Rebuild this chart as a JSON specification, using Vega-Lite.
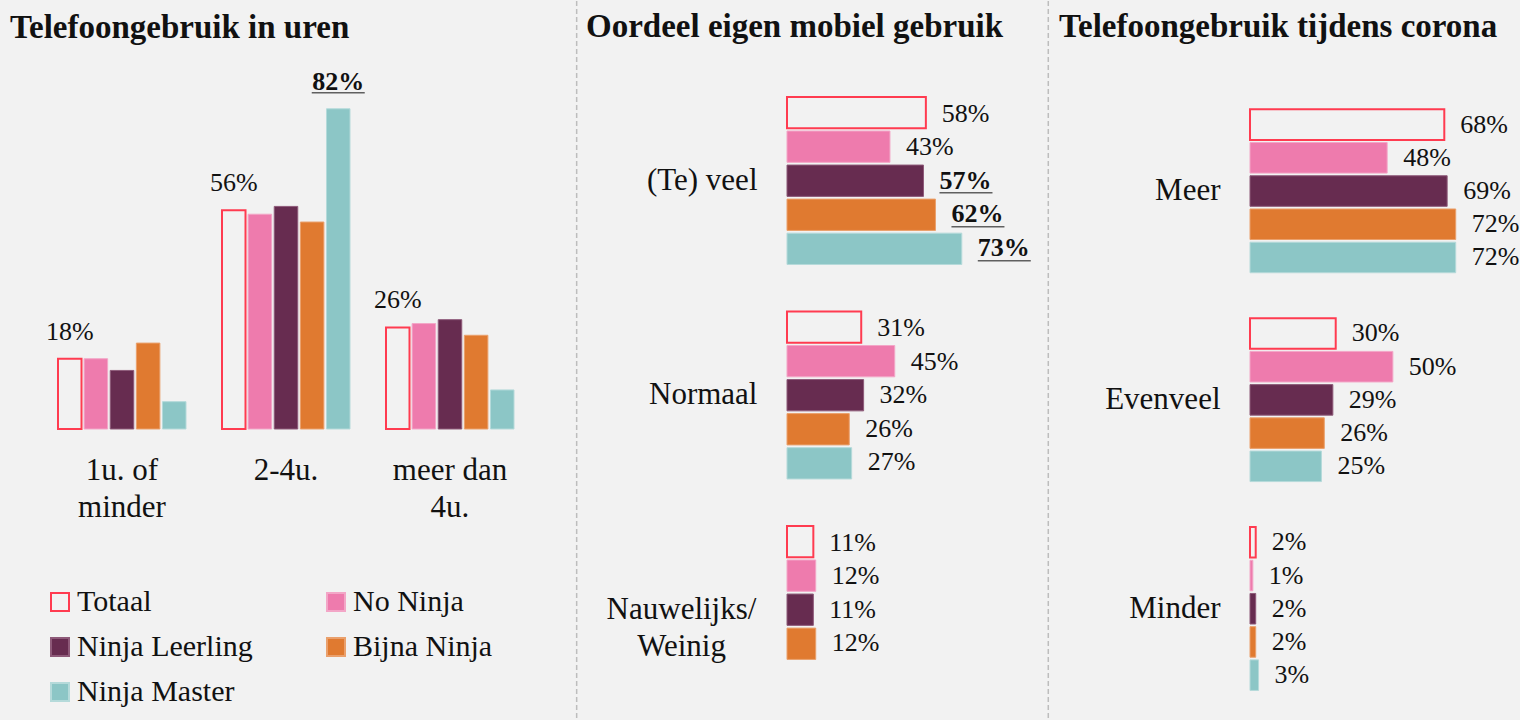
{
  "$schema": "https://vega.github.io/schema/vega-lite/v6.json",
  "background": "#f2f2f2",
  "padding": {"left": 10, "top": 0, "right": 0, "bottom": 0},
  "config": {
    "view": {"stroke": null},
    "font": "Liberation Serif",
    "title": {"font": "Liberation Serif", "fontSize": 33, "fontWeight": "bold", "color": "#111111", "anchor": "start", "frame": "group", "baseline": "alphabetic", "offset": -44},
    "axis": {"labelFont": "Liberation Serif", "labelColor": "#111111", "domain": false, "ticks": false, "grid": false, "title": null, "labelOverlap": false},
    "text": {"font": "Liberation Serif", "color": "#111111"}
  },
  "spacing": 225,
  "bounds": "flush",
  "resolve": {
    "scale": {"fill": "independent", "stroke": "independent", "x": "independent", "y": "independent"},
    "legend": {"fill": "independent", "stroke": "independent"}
  },
  "hconcat": [
    {
      "width": 552,
      "height": 428,
      "title": {"text": "Telefoongebruik in uren"},
      "data": {"values": [
        {"uren": "1u. of minder", "groep": "Totaal", "pct": 0.18},
        {"uren": "1u. of minder", "groep": "No Ninja", "pct": 0.18},
        {"uren": "1u. of minder", "groep": "Ninja Leerling", "pct": 0.15},
        {"uren": "1u. of minder", "groep": "Bijna Ninja", "pct": 0.22},
        {"uren": "1u. of minder", "groep": "Ninja Master", "pct": 0.07},
        {"uren": "2-4u.", "groep": "Totaal", "pct": 0.56},
        {"uren": "2-4u.", "groep": "No Ninja", "pct": 0.55},
        {"uren": "2-4u.", "groep": "Ninja Leerling", "pct": 0.57},
        {"uren": "2-4u.", "groep": "Bijna Ninja", "pct": 0.53},
        {"uren": "2-4u.", "groep": "Ninja Master", "pct": 0.82, "sig": true},
        {"uren": "meer dan 4u.", "groep": "Totaal", "pct": 0.26},
        {"uren": "meer dan 4u.", "groep": "No Ninja", "pct": 0.27},
        {"uren": "meer dan 4u.", "groep": "Ninja Leerling", "pct": 0.28},
        {"uren": "meer dan 4u.", "groep": "Bijna Ninja", "pct": 0.24},
        {"uren": "meer dan 4u.", "groep": "Ninja Master", "pct": 0.10}
      ]},
      "encoding": {
        "x": {"field": "uren", "type": "nominal",
          "scale": {"domain": ["1u. of minder", "2-4u.", "meer dan 4u."], "paddingInner": 0.2195, "paddingOuter": 0.2927},
          "axis": {"labelAngle": 0, "labelFontSize": 31, "labelPadding": 26, "labelLineHeight": 37, "labelLimit": 0,
            "labelExpr": "datum.label == '1u. of minder' ? ['1u. of', 'minder'] : datum.label == 'meer dan 4u.' ? ['meer dan', '4u.'] : datum.label"}},
        "xOffset": {"field": "groep", "type": "nominal",
          "scale": {"domain": ["Totaal", "No Ninja", "Ninja Leerling", "Bijna Ninja", "Ninja Master"], "paddingInner": 0.1}},
        "y": {"field": "pct", "type": "quantitative", "scale": {"domain": [0, 1.096], "nice": false}, "axis": null}
      },
      "layer": [
        {
          "mark": {"type": "bar"},
          "encoding": {
            "fill": {"field": "groep", "type": "nominal",
              "scale": {"domain": ["Totaal", "Ninja Leerling", "Ninja Master", "No Ninja", "Bijna Ninja"], "range": ["#f2f2f2", "#672c50", "#8cc6c6", "#ee7bad", "#e07a30"]},
              "legend": {"orient": "none", "legendX": 35, "legendY": 586, "columns": 2, "title": null, "symbolType": "square", "symbolSize": 324, "symbolStrokeWidth": 2, "labelFontSize": 30, "labelFont": "Liberation Serif", "labelColor": "#111111", "labelOffset": 2, "rowPadding": 15, "columnPadding": 68, "padding": 0, "labelLimit": 0}},
            "stroke": {"field": "groep", "type": "nominal",
              "scale": {"domain": ["Totaal", "Ninja Leerling", "Ninja Master", "No Ninja", "Bijna Ninja"], "range": ["#ff3b50", "#8e5a79", "#b5dada", "#f3a6c7", "#eaa06c"]},
              "legend": {"orient": "none", "legendX": 35, "legendY": 586, "columns": 2, "title": null, "symbolType": "square", "symbolSize": 324, "symbolStrokeWidth": 2, "labelFontSize": 30, "labelFont": "Liberation Serif", "labelColor": "#111111", "labelOffset": 2, "rowPadding": 15, "columnPadding": 68, "padding": 0, "labelLimit": 0}},
            "strokeWidth": {"condition": {"test": "datum.groep == 'Totaal'", "value": 2}, "value": 1}
          }
        },
        {
          "transform": [{"filter": "datum.groep == 'Totaal' && !datum.sig"}],
          "mark": {"type": "text", "dy": -19, "baseline": "alphabetic", "fontSize": 26},
          "encoding": {"text": {"field": "pct", "type": "quantitative", "format": ".0%"}}
        },
        {
          "transform": [{"filter": "datum.sig == true"}],
          "mark": {"type": "text", "dy": -19, "baseline": "alphabetic", "fontSize": 26, "fontWeight": "bold"},
          "encoding": {"text": {"field": "pct", "type": "quantitative", "format": ".0%"}}
        },
        {
          "transform": [{"filter": "datum.sig == true"}],
          "mark": {"type": "tick", "orient": "horizontal", "size": 53, "thickness": 1.6, "yOffset": -16, "color": "#222222"}
        }
      ]
    },
    {
      "width": 238,
      "height": 720,
      "title": {"text": "Oordeel eigen mobiel gebruik", "dx": -201},
      "layer": [
        {
          "data": {"values": [{"scheiding": "links"}]},
          "mark": {"type": "rule", "color": "#bdbdbd", "strokeWidth": 1.5, "strokeDash": [5, 3]},
          "encoding": {"x": {"datum": -0.8785, "type": "quantitative", "scale": {"domain": [0, 0.994], "nice": false, "zero": false}, "axis": null}}
        },
        {
          "data": {"values": [
            {"oordeel": "(Te) veel", "groep": "Totaal", "pct": 0.58},
            {"oordeel": "(Te) veel", "groep": "No Ninja", "pct": 0.43},
            {"oordeel": "(Te) veel", "groep": "Ninja Leerling", "pct": 0.57, "sig": true},
            {"oordeel": "(Te) veel", "groep": "Bijna Ninja", "pct": 0.62, "sig": true},
            {"oordeel": "(Te) veel", "groep": "Ninja Master", "pct": 0.73, "sig": true},
            {"oordeel": "Normaal", "groep": "Totaal", "pct": 0.31},
            {"oordeel": "Normaal", "groep": "No Ninja", "pct": 0.45},
            {"oordeel": "Normaal", "groep": "Ninja Leerling", "pct": 0.32},
            {"oordeel": "Normaal", "groep": "Bijna Ninja", "pct": 0.26},
            {"oordeel": "Normaal", "groep": "Ninja Master", "pct": 0.27},
            {"oordeel": "Nauwelijks/ Weinig", "groep": "Totaal", "pct": 0.11},
            {"oordeel": "Nauwelijks/ Weinig", "groep": "No Ninja", "pct": 0.12},
            {"oordeel": "Nauwelijks/ Weinig", "groep": "Ninja Leerling", "pct": 0.11},
            {"oordeel": "Nauwelijks/ Weinig", "groep": "Bijna Ninja", "pct": 0.12}
          ]},
          "encoding": {
            "y": {"field": "oordeel", "type": "nominal",
              "scale": {"domain": ["(Te) veel", "Normaal", "Nauwelijks/ Weinig"], "paddingInner": 0.219, "paddingOuter": 0.2879, "align": 0.777},
              "axis": {"labelFontSize": 31, "labelLineHeight": 37, "labelLimit": 0,
                "labelAlign": {"condition": {"test": "datum.value == 'Nauwelijks/ Weinig'", "value": "center"}, "value": "right"},
                "labelPadding": {"condition": {"test": "datum.value == 'Nauwelijks/ Weinig'", "value": 106}, "value": 30},
                "labelExpr": "datum.label == 'Nauwelijks/ Weinig' ? ['Nauwelijks/', 'Weinig'] : datum.label"}},
            "yOffset": {"field": "groep", "type": "nominal",
              "scale": {"domain": ["Totaal", "No Ninja", "Ninja Leerling", "Bijna Ninja", "Ninja Master"], "paddingInner": 0.08}},
            "x": {"field": "pct", "type": "quantitative"}
          },
          "resolve": {"scale": {"yOffset": "independent"}},
          "layer": [
            {
              "mark": {"type": "bar"},
              "encoding": {
                "fill": {"field": "groep", "type": "nominal",
                  "scale": {"domain": ["Totaal", "No Ninja", "Ninja Leerling", "Bijna Ninja", "Ninja Master"], "range": ["#f2f2f2", "#ee7bad", "#672c50", "#e07a30", "#8cc6c6"]}, "legend": null},
                "stroke": {"field": "groep", "type": "nominal",
                  "scale": {"domain": ["Totaal", "No Ninja", "Ninja Leerling", "Bijna Ninja", "Ninja Master"], "range": ["#ff3b50", "#f3a6c7", "#8e5a79", "#eaa06c", "#b5dada"]}, "legend": null},
                "strokeWidth": {"condition": {"test": "datum.groep == 'Totaal'", "value": 2}, "value": 1}
              }
            },
            {
              "transform": [{"filter": "!datum.sig"}],
              "mark": {"type": "text", "dx": 16, "align": "left", "baseline": "middle", "fontSize": 26},
              "encoding": {"text": {"field": "pct", "type": "quantitative", "format": ".0%"}}
            },
            {
              "transform": [{"filter": "datum.sig == true"}],
              "mark": {"type": "text", "dx": 16, "align": "left", "baseline": "middle", "fontSize": 26, "fontWeight": "bold"},
              "encoding": {"text": {"field": "pct", "type": "quantitative", "format": ".0%"}}
            },
            {
              "transform": [{"filter": "datum.sig == true"}],
              "mark": {"type": "tick", "orient": "horizontal", "size": 53, "thickness": 1.6, "xOffset": 42.5, "color": "#222222"},
              "encoding": {
                "yOffset": {"field": "groep", "type": "nominal",
                  "scale": {"domain": ["Totaal", "No Ninja", "Ninja Leerling", "Bijna Ninja", "Ninja Master"], "paddingInner": 0.08, "range": [12, 179.5]}}
              }
            }
          ]
        }
      ]
    },
    {
      "width": 262,
      "height": 720,
      "title": {"text": "Telefoongebruik tijdens corona", "dx": -191},
      "layer": [
        {
          "data": {"values": [{"scheiding": "links"}]},
          "mark": {"type": "rule", "color": "#bdbdbd", "strokeWidth": 1.5, "strokeDash": [5, 3]},
          "encoding": {"x": {"datum": -0.706, "type": "quantitative", "scale": {"domain": [0, 0.917], "nice": false, "zero": false}, "axis": null}}
        },
        {
          "data": {"values": [
            {"corona": "Meer", "groep": "Totaal", "pct": 0.68},
            {"corona": "Meer", "groep": "No Ninja", "pct": 0.48},
            {"corona": "Meer", "groep": "Ninja Leerling", "pct": 0.69},
            {"corona": "Meer", "groep": "Bijna Ninja", "pct": 0.72},
            {"corona": "Meer", "groep": "Ninja Master", "pct": 0.72},
            {"corona": "Evenveel", "groep": "Totaal", "pct": 0.30},
            {"corona": "Evenveel", "groep": "No Ninja", "pct": 0.50},
            {"corona": "Evenveel", "groep": "Ninja Leerling", "pct": 0.29},
            {"corona": "Evenveel", "groep": "Bijna Ninja", "pct": 0.26},
            {"corona": "Evenveel", "groep": "Ninja Master", "pct": 0.25},
            {"corona": "Minder", "groep": "Totaal", "pct": 0.02},
            {"corona": "Minder", "groep": "No Ninja", "pct": 0.01},
            {"corona": "Minder", "groep": "Ninja Leerling", "pct": 0.02},
            {"corona": "Minder", "groep": "Bijna Ninja", "pct": 0.02},
            {"corona": "Minder", "groep": "Ninja Master", "pct": 0.03}
          ]},
          "encoding": {
            "y": {"field": "corona", "type": "nominal",
              "scale": {"domain": ["Meer", "Evenveel", "Minder"], "paddingInner": 0.2176, "paddingOuter": 0.3325, "align": 0.78},
              "axis": {"labelFontSize": 31, "labelPadding": 30, "labelLimit": 0}},
            "yOffset": {"field": "groep", "type": "nominal",
              "scale": {"domain": ["Totaal", "No Ninja", "Ninja Leerling", "Bijna Ninja", "Ninja Master"], "paddingInner": 0.08}},
            "x": {"field": "pct", "type": "quantitative"}
          },
          "layer": [
            {
              "mark": {"type": "bar"},
              "encoding": {
                "fill": {"field": "groep", "type": "nominal",
                  "scale": {"domain": ["Totaal", "No Ninja", "Ninja Leerling", "Bijna Ninja", "Ninja Master"], "range": ["#f2f2f2", "#ee7bad", "#672c50", "#e07a30", "#8cc6c6"]}, "legend": null},
                "stroke": {"field": "groep", "type": "nominal",
                  "scale": {"domain": ["Totaal", "No Ninja", "Ninja Leerling", "Bijna Ninja", "Ninja Master"], "range": ["#ff3b50", "#f3a6c7", "#8e5a79", "#eaa06c", "#b5dada"]}, "legend": null},
                "strokeWidth": {"condition": {"test": "datum.groep == 'Totaal'", "value": 2}, "value": 1}
              }
            },
            {
              "mark": {"type": "text", "dx": 16, "align": "left", "baseline": "middle", "fontSize": 26},
              "encoding": {"text": {"field": "pct", "type": "quantitative", "format": ".0%"}}
            }
          ]
        }
      ]
    }
  ]
}
